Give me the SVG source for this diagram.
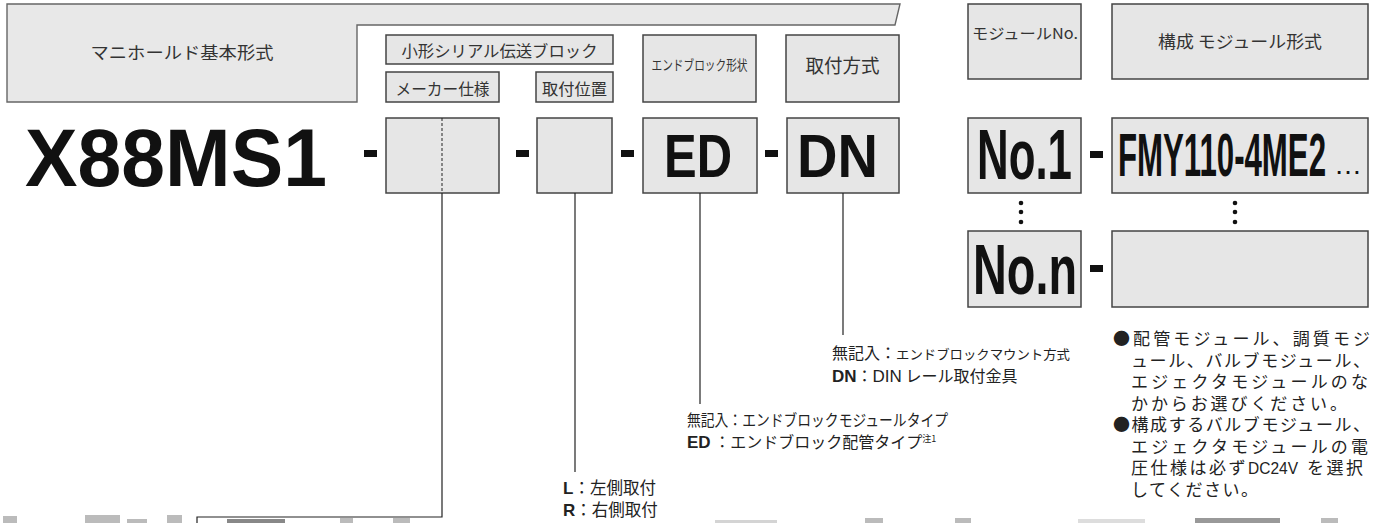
<svg xmlns="http://www.w3.org/2000/svg" width="1378" height="523" viewBox="0 0 1378 523">
<style>
  .hdr { fill: #e8e8e8; stroke: #666; stroke-width: 1.4; }
  .box { fill: #e6e6e6; stroke: #444; stroke-width: 1.5; }
  .jp { font-family: "Noto Sans CJK JP", "Noto Sans", sans-serif; fill: #333; }
  .jpd { font-family: "Noto Sans CJK JP", "Noto Sans", sans-serif; fill: #222; }
  .big { font-family: "Liberation Sans", Arial, sans-serif; font-weight: bold; fill: #111; }
  .lat { font-family: "Liberation Sans", Arial, sans-serif; }
  .b { font-weight: bold; }
  .dash { fill: #111; }
  .conn { fill: none; stroke: #222; stroke-width: 1.2; }
  .dot { fill: #111; }
  .cut { fill: #bbb; }
</style>

<!-- header band -->
<g id="header-base">
  <path class="hdr" d="M7,4 H900 L895,25 H357 V102 H7 Z"/>
  <text class="jp" x="182" y="59" font-size="17" text-anchor="middle" textLength="183" lengthAdjust="spacingAndGlyphs">マニホールド基本形式</text>
</g>
<g id="header-serial">
  <rect class="box" x="386" y="35" width="227" height="29"/>
  <text class="jp" x="499.5" y="57" font-size="16" text-anchor="middle" textLength="196" lengthAdjust="spacingAndGlyphs">小形シリアル伝送ブロック</text>
</g>
<g id="header-maker">
  <rect class="box" x="386" y="72" width="113" height="30"/>
  <text class="jp" x="442.5" y="95" font-size="16" text-anchor="middle" textLength="94" lengthAdjust="spacingAndGlyphs">メーカー仕様</text>
</g>
<g id="header-position">
  <rect class="box" x="536" y="72" width="77" height="30"/>
  <text class="jp" x="574.5" y="95" font-size="16" text-anchor="middle" textLength="65" lengthAdjust="spacingAndGlyphs">取付位置</text>
</g>
<g id="header-endblock">
  <rect class="box" x="643" y="35" width="113" height="67"/>
  <text class="jp" x="699.5" y="70" font-size="14" text-anchor="middle" textLength="96" lengthAdjust="spacingAndGlyphs">エンドブロック形状</text>
</g>
<g id="header-mount">
  <rect class="box" x="786" y="35" width="113" height="67"/>
  <text class="jp" x="842.5" y="73" font-size="19" text-anchor="middle" textLength="74" lengthAdjust="spacingAndGlyphs">取付方式</text>
</g>
<g id="header-module-no">
  <rect class="box" x="968" y="4" width="113" height="75"/>
  <text class="jp" x="1025" y="39" font-size="15" text-anchor="middle" textLength="106" lengthAdjust="spacingAndGlyphs">モジュールNo.</text>
</g>
<g id="header-module-type">
  <rect class="box" x="1112" y="4" width="256" height="75"/>
  <text class="jp" x="1240" y="48" font-size="17" text-anchor="middle" textLength="164" lengthAdjust="spacingAndGlyphs">構成 モジュール形式</text>
</g>

<!-- model row -->
<g id="base-model">
  <text class="big" x="25" y="186" font-size="81" textLength="302" lengthAdjust="spacingAndGlyphs">X88MS1</text>
</g>
<g id="dashes">
  <rect class="dash" x="364" y="150" width="13" height="7"/>
  <rect class="dash" x="516" y="150" width="13" height="7"/>
  <rect class="dash" x="621" y="150" width="13" height="7"/>
  <rect class="dash" x="765" y="150" width="13" height="7"/>
  <rect class="dash" x="1090" y="151" width="13" height="7"/>
  <rect class="dash" x="1090" y="265" width="13" height="7"/>
</g>
<g id="box-maker">
  <rect class="box" x="386" y="118" width="113" height="75"/>
  <line x1="442" y1="118" x2="442" y2="193" stroke="#222" stroke-width="1" stroke-dasharray="3,2"/>
</g>
<g id="box-position">
  <rect class="box" x="537" y="118" width="75" height="75"/>
</g>
<g id="box-ed">
  <rect class="box" x="643" y="118" width="114" height="75"/>
  <text class="big" x="664" y="177" font-size="61" textLength="68" lengthAdjust="spacingAndGlyphs">ED</text>
</g>
<g id="box-dn">
  <rect class="box" x="787" y="118" width="112" height="75"/>
  <text class="big" x="797" y="177" font-size="61" textLength="81" lengthAdjust="spacingAndGlyphs">DN</text>
</g>
<g id="box-no1">
  <rect class="box" x="968" y="118" width="113" height="75"/>
  <text class="big" x="977" y="179" font-size="71" textLength="95" lengthAdjust="spacingAndGlyphs">No.1</text>
</g>
<g id="box-fmy">
  <rect class="box" x="1112" y="118" width="256" height="75"/>
  <text class="big" x="1118" y="176" font-size="61"><tspan textLength="208" lengthAdjust="spacingAndGlyphs">FMY110-4ME2</tspan><tspan x="1334" y="174" font-size="28" font-weight="normal">…</tspan></text>
</g>
<g id="box-non">
  <rect class="box" x="968" y="231" width="113" height="76"/>
  <text class="big" x="973" y="294" font-size="71" textLength="104" lengthAdjust="spacingAndGlyphs">No.n</text>
</g>
<g id="box-empty">
  <rect class="box" x="1112" y="231" width="256" height="76"/>
</g>
<g id="ellipsis-dots">
  <circle class="dot" cx="1021" cy="203" r="2.3"/>
  <circle class="dot" cx="1021" cy="212" r="2.3"/>
  <circle class="dot" cx="1021" cy="222" r="2.3"/>
  <circle class="dot" cx="1235" cy="203" r="2.3"/>
  <circle class="dot" cx="1235" cy="212" r="2.3"/>
  <circle class="dot" cx="1235" cy="222" r="2.3"/>
</g>

<!-- connectors -->
<g id="connectors">
  <path class="conn" d="M442,193 V517 H197 V523"/>
  <path class="conn" d="M575,193 V472"/>
  <path class="conn" d="M700,193 V404"/>
  <path class="conn" d="M843,193 V335"/>
</g>

<!-- option notes -->
<g id="note-mount">
  <text class="jpd" x="832" y="359" font-size="16">無記入：<tspan font-size="13" textLength="174" lengthAdjust="spacingAndGlyphs">エンドブロックマウント方式</tspan></text>
  <text class="jpd" x="832" y="382" font-size="16"><tspan class="lat b" font-size="17">DN</tspan>：<tspan class="lat" font-size="17">DIN</tspan> レール取付金具</text>
</g>
<g id="note-endblock">
  <text class="jpd" x="687" y="426" font-size="16" textLength="261" lengthAdjust="spacingAndGlyphs">無記入：エンドブロックモジュールタイプ</text>
  <text class="jpd" x="687" y="448" font-size="16"><tspan class="lat b" font-size="17">ED</tspan> ：エンドブロック配管タイプ<tspan font-size="9" dy="-6">注1</tspan></text>
</g>
<g id="note-position">
  <text class="jpd" x="563" y="494" font-size="16.5"><tspan class="lat b" font-size="17">L</tspan>：左側取付</text>
  <text class="jpd" x="563" y="516" font-size="16.5"><tspan class="lat b" font-size="17">R</tspan>：右側取付</text>
</g>
<g id="note-modules">
  <text class="jpd" x="1113" y="345" font-size="17" textLength="257" lengthAdjust="spacing">●配管モジュール、調質モジ</text>
  <text class="jpd" x="1131" y="366.5" font-size="17" textLength="239" lengthAdjust="spacing">ュール、バルブモジュール、</text>
  <text class="jpd" x="1131" y="388" font-size="17" textLength="237" lengthAdjust="spacing">エジェクタモジュールのな</text>
  <text class="jpd" x="1131" y="409.5" font-size="17" letter-spacing="2.9">かからお選びください。</text>
  <text class="jpd" x="1113" y="431" font-size="17" textLength="257" lengthAdjust="spacing">●構成するバルブモジュール、</text>
  <text class="jpd" x="1131" y="452.5" font-size="17" textLength="237" lengthAdjust="spacing">エジェクタモジュールの電</text>
  <text class="jpd" x="1131" y="474" font-size="17"><tspan letter-spacing="2.5">圧仕様は必ず</tspan><tspan class="lat" x="1248" font-size="17" textLength="50" lengthAdjust="spacingAndGlyphs">DC24V</tspan><tspan x="1307" letter-spacing="2.5">を選択</tspan></text>
  <text class="jpd" x="1131" y="495.5" font-size="17" letter-spacing="1.5">してください。</text>
</g>

<!-- cut-off fragments at the lower edge -->
<g id="cut-edge">
  <rect class="cut" x="3" y="516" width="14" height="7"/>
  <rect class="cut" x="85" y="515" width="35" height="8"/>
  <rect class="cut" x="127" y="519" width="20" height="4"/>
  <rect class="cut" x="167" y="515" width="15" height="8"/>
  <rect x="227" y="519" width="58" height="4" fill="#888"/>
  <rect class="cut" x="340" y="518" width="13" height="5"/>
  <rect class="cut" x="393" y="518" width="17" height="5"/>
  <rect x="715" y="520" width="62" height="3" fill="#d4d4d4"/>
  <rect class="cut" x="865" y="518" width="18" height="5"/>
  <rect class="cut" x="955" y="518" width="16" height="5"/>
  <rect x="1078" y="519" width="67" height="4" fill="#ddd"/>
  <rect x="1195" y="518" width="85" height="5" fill="#999"/>
  <rect class="cut" x="1321" y="518" width="17" height="5"/>
</g>
</svg>
